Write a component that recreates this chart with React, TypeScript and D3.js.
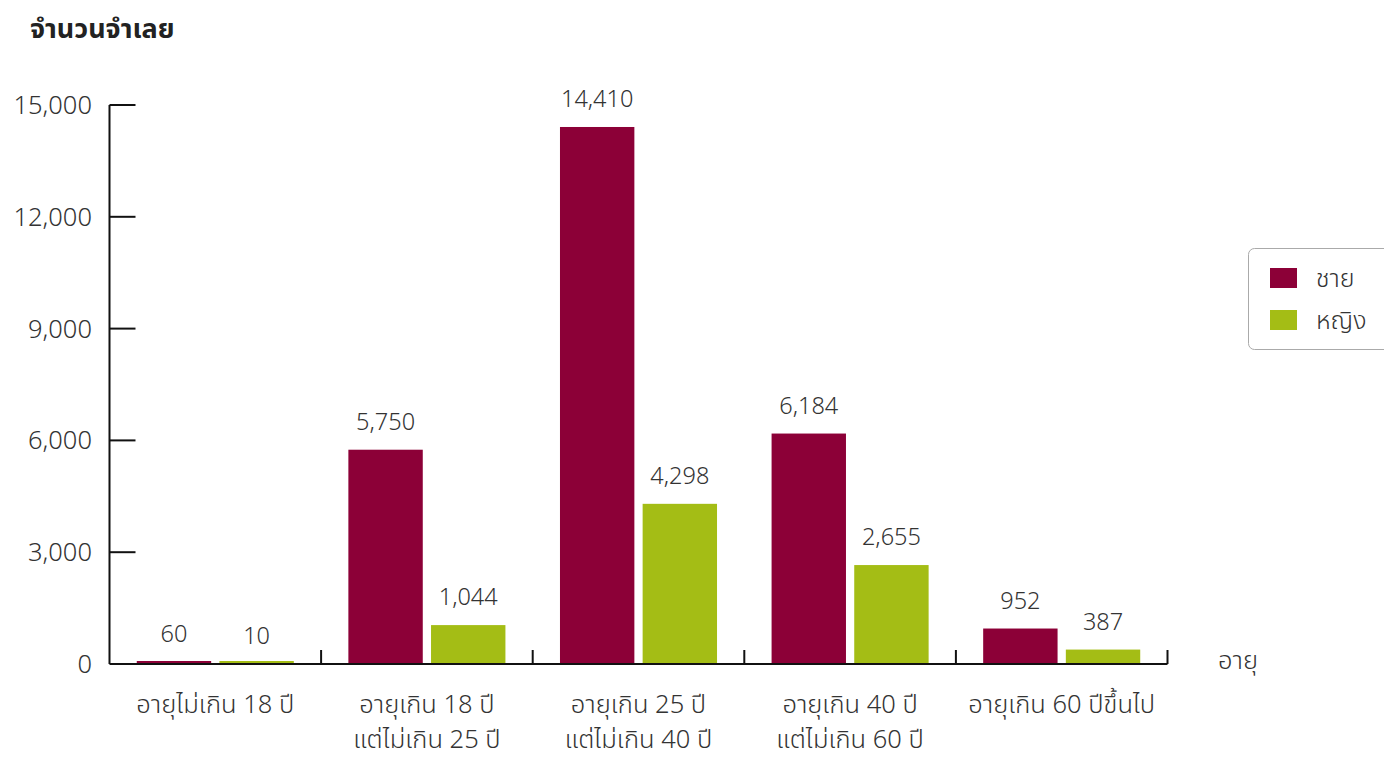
import React from "react";
import * as d3 from "d3";

const categories: string[][] = [
  ["อายุไม่เกิน 18 ปี"],
  ["อายุเกิน 18 ปี", "แต่ไม่เกิน 25 ปี"],
  ["อายุเกิน 25 ปี", "แต่ไม่เกิน 40 ปี"],
  ["อายุเกิน 40 ปี", "แต่ไม่เกิน 60 ปี"],
  ["อายุเกิน 60 ปีขึ้นไป"],
];
const seriesNames = ["ชาย", "หญิง"];
const maleValues = [60, 5750, 14410, 6184, 952];
const femaleValues = [10, 1044, 4298, 2655, 387];
const yTicks = [0, 3000, 6000, 9000, 12000, 15000];
const colors = ["#8C0037", "#A4BD15"];

const W = 1384;
const H = 761;
const FONT = "'Noto Sans Thai', 'Noto Sans', 'DejaVu Sans', sans-serif";

export default function App() {
  const x0 = 109.5;
  const x1 = 1167.5;
  const yBase = 664;
  const yTop = 105;
  const x = d3.scaleBand<number>().domain(d3.range(categories.length)).range([x0, x1]).paddingInner(0).paddingOuter(0);
  const inner = d3.scaleBand<number>().domain([0, 1]).range([0, x.bandwidth()]).paddingInner(0.1).paddingOuter(0.33);
  const y = d3.scaleLinear().domain([0, 15000]).range([yBase, yTop]);
  const series = [maleValues, femaleValues];
  const fmt = d3.format(",");

  return (
    <svg width={W} height={H} style={{ position: "absolute", left: 0, top: 0, background: "#fff" }} fontFamily={FONT}>
      <text x={30} y={38} fontSize={27} fontWeight="bold" fill="#222">จำนวนจำเลย</text>

      {/* bars */}
      {categories.map((_, i) =>
        series.map((vals, s) => {
          const bx = (x(i) as number) + (inner(s) as number);
          const by = y(vals[i]);
          const h = Math.max(yBase - by, 3);
          return (
            <g key={`${i}-${s}`}>
              <rect x={bx} y={yBase - h} width={inner.bandwidth()} height={h} fill={colors[s]} />
              <text x={bx + inner.bandwidth() / 2} y={by - 20} fontSize={23.5} textAnchor="middle" fill="#333" fontWeight={300}>
                {fmt(vals[i])}
              </text>
            </g>
          );
        })
      )}

      {/* y axis */}
      <line x1={x0} x2={x0} y1={yTop} y2={yBase} stroke="#111" strokeWidth={2} />
      {yTicks.map((t) => (
        <g key={t}>
          {t > 0 && <line x1={x0} x2={x0 + 26} y1={y(t)} y2={y(t)} stroke="#111" strokeWidth={2} />}
          <text x={92} y={y(t)} dy="0.35em" fontSize={25.5} textAnchor="end" fill="#333" fontWeight={300}>
            {fmt(t)}
          </text>
        </g>
      ))}

      {/* x axis */}
      <line x1={x0} x2={x1} y1={yBase} y2={yBase} stroke="#111" strokeWidth={2} />
      {categories.map((_, i) => {
        const tx = (x(i) as number) + x.bandwidth();
        return <line key={i} x1={tx} x2={tx} y1={yBase} y2={yBase - 14} stroke="#111" strokeWidth={2} />;
      })}
      {categories.map((lines, i) =>
        lines.map((l, k) => (
          <text key={`${i}-${k}`} x={(x(i) as number) + x.bandwidth() / 2} y={713 + k * 35} fontSize={25.5} textAnchor="middle" fill="#333" fontWeight={300}>
            {l}
          </text>
        ))
      )}
      <text x={1218} y={669} fontSize={25.5} fill="#333" fontWeight={300}>อายุ</text>

      {/* legend */}
      <rect x={1248.5} y={248.5} width={150} height={101} rx={6} fill="#fff" stroke="#aaa" strokeWidth={1} />
      {seriesNames.map((n, s) => (
        <g key={n}>
          <rect x={1270} y={268 + s * 42} width={27} height={20} fill={colors[s]} />
          <text x={1316} y={278 + s * 42} dy="0.35em" fontSize={25} fill="#333" fontWeight={300}>{n}</text>
        </g>
      ))}
    </svg>
  );
}
